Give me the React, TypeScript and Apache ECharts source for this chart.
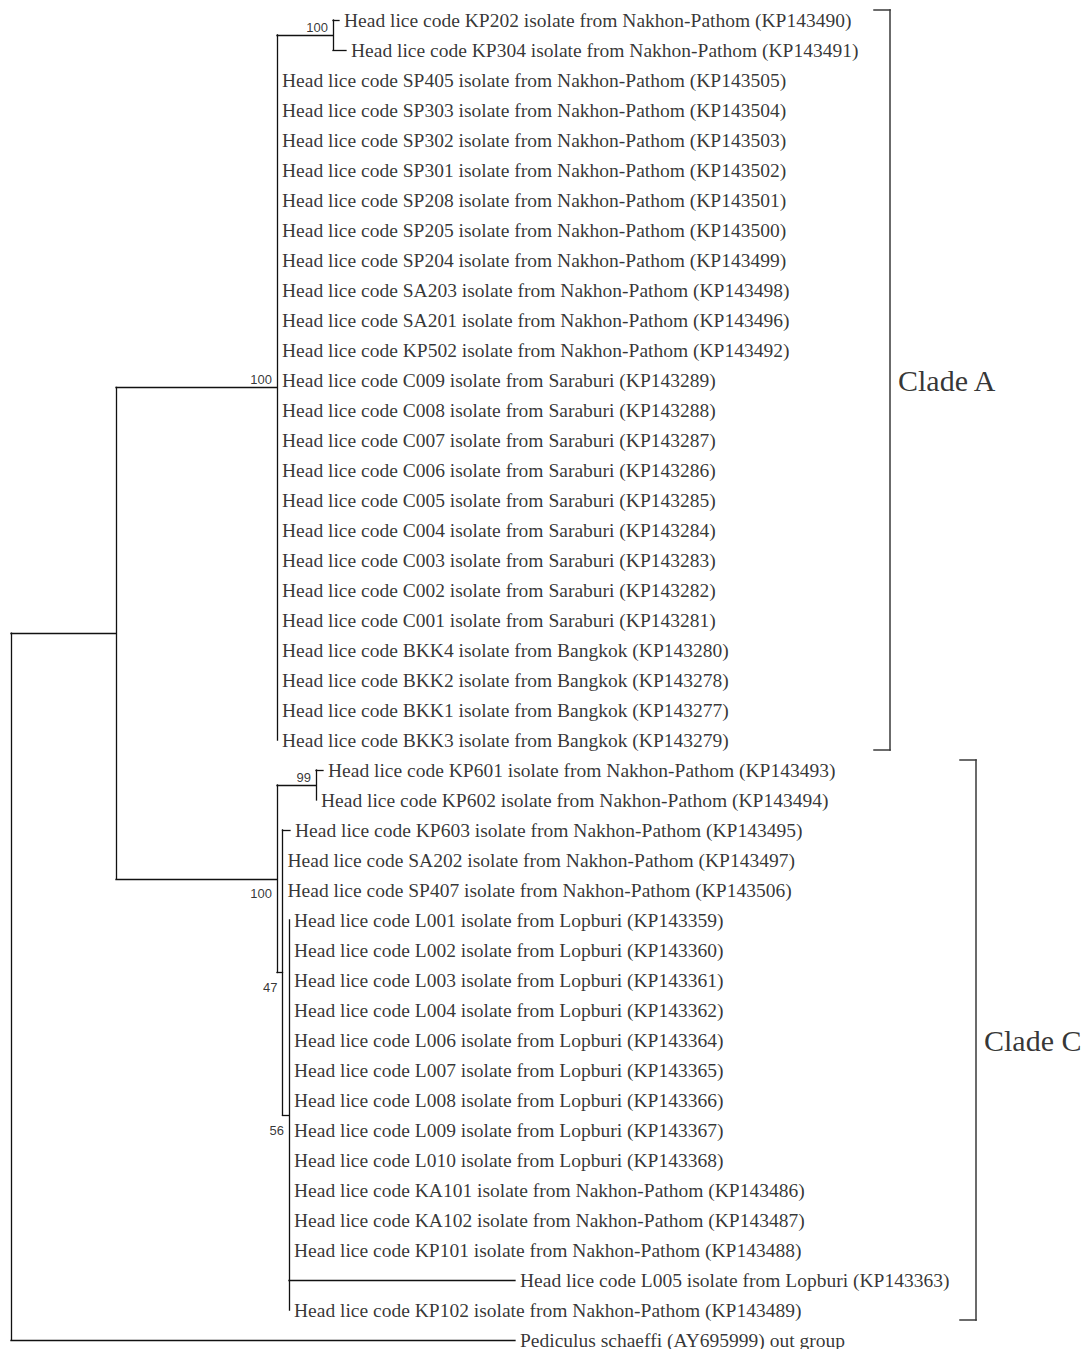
import React, { useEffect, useRef } from "react";
import * as echarts from "echarts";

// ---- DATA ----
// Leaves, top to bottom
const leafNames = [
  "Head lice code KP202 isolate from Nakhon-Pathom (KP143490)",
  "Head lice code KP304 isolate from Nakhon-Pathom (KP143491)",
  "Head lice code SP405 isolate from Nakhon-Pathom (KP143505)",
  "Head lice code SP303 isolate from Nakhon-Pathom (KP143504)",
  "Head lice code SP302 isolate from Nakhon-Pathom (KP143503)",
  "Head lice code SP301 isolate from Nakhon-Pathom (KP143502)",
  "Head lice code SP208 isolate from Nakhon-Pathom (KP143501)",
  "Head lice code SP205 isolate from Nakhon-Pathom (KP143500)",
  "Head lice code SP204 isolate from Nakhon-Pathom (KP143499)",
  "Head lice code SA203 isolate from Nakhon-Pathom (KP143498)",
  "Head lice code SA201 isolate from Nakhon-Pathom (KP143496)",
  "Head lice code KP502 isolate from Nakhon-Pathom (KP143492)",
  "Head lice code C009 isolate from Saraburi (KP143289)",
  "Head lice code C008 isolate from Saraburi (KP143288)",
  "Head lice code C007 isolate from Saraburi (KP143287)",
  "Head lice code C006 isolate from Saraburi (KP143286)",
  "Head lice code C005 isolate from Saraburi (KP143285)",
  "Head lice code C004 isolate from Saraburi (KP143284)",
  "Head lice code C003 isolate from Saraburi (KP143283)",
  "Head lice code C002 isolate from Saraburi (KP143282)",
  "Head lice code C001 isolate from Saraburi (KP143281)",
  "Head lice code BKK4 isolate from Bangkok (KP143280)",
  "Head lice code BKK2 isolate from Bangkok (KP143278)",
  "Head lice code BKK1 isolate from Bangkok (KP143277)",
  "Head lice code BKK3 isolate from Bangkok (KP143279)",
  "Head lice code KP601 isolate from Nakhon-Pathom (KP143493)",
  "Head lice code KP602 isolate from Nakhon-Pathom (KP143494)",
  "Head lice code KP603 isolate from Nakhon-Pathom (KP143495)",
  "Head lice code SA202 isolate from Nakhon-Pathom (KP143497)",
  "Head lice code SP407 isolate from Nakhon-Pathom (KP143506)",
  "Head lice code L001 isolate from Lopburi (KP143359)",
  "Head lice code L002 isolate from Lopburi (KP143360)",
  "Head lice code L003 isolate from Lopburi (KP143361)",
  "Head lice code L004 isolate from Lopburi (KP143362)",
  "Head lice code L006 isolate from Lopburi (KP143364)",
  "Head lice code L007 isolate from Lopburi (KP143365)",
  "Head lice code L008 isolate from Lopburi (KP143366)",
  "Head lice code L009 isolate from Lopburi (KP143367)",
  "Head lice code L010 isolate from Lopburi (KP143368)",
  "Head lice code KA101 isolate from Nakhon-Pathom (KP143486)",
  "Head lice code KA102 isolate from Nakhon-Pathom (KP143487)",
  "Head lice code KP101 isolate from Nakhon-Pathom (KP143488)",
  "Head lice code L005 isolate from Lopburi (KP143363)",
  "Head lice code KP102 isolate from Nakhon-Pathom (KP143489)",
  "Pediculus schaeffi (AY695999) out group",
];
const leafParent = [
  "A1", "A1",
  "A", "A", "A", "A", "A", "A", "A", "A", "A", "A", "A", "A", "A", "A", "A", "A", "A", "A", "A", "A", "A", "A", "A",
  "C1", "C1",
  "C2", "C2", "C2",
  "C3", "C3", "C3", "C3", "C3", "C3", "C3", "C3", "C3", "C3", "C3", "C3", "C3", "C3",
  "root",
];
const leafBranch = [
  6, 13,
  0, 0, 0, 0, 0, 0, 0, 0, 0, 0, 0, 0, 0, 0, 0, 0, 0, 0, 0, 0, 0, 0, 0,
  7, 0,
  7.5, 0, 0,
  0, 0, 0, 0, 0, 0, 0, 0, 0, 0, 0, 0, 226, 0,
  504,
];
// Internal nodes
const nodeIds = ["root", "AC", "A", "A1", "C", "C1", "C2", "C3"];
const nodeParent = [null, "root", "AC", "A", "AC", "C", "C", "C2"];
const nodeBranch = [0, 105, 161, 56, 161, 39, 5.5, 6.5];
const nodeSupport = [null, null, 100, 100, 100, 99, 47, 56];
// Clades
const cladeNames = ["Clade A", "Clade C"];
const cladeFirstLeaf = [0, 25];
const cladeLastLeaf = [24, 43];

// ---- LAYOUT CONSTANTS ----
const W = 1089;
const H = 1349;
const ROW_PX = 30;
const FIRST_ROW_PX = 20;
const ROOT_PX = 11;
const bracketX = [879, 965]; // axis units
const bracketTick = 16;
const bracketPad = 1 / 3;

type Child = { kind: "leaf" | "node"; idx: number };

function buildTree() {
  const depth: Record<string, number> = {};
  const nodeIndex: Record<string, number> = {};
  nodeIds.forEach((id, i) => (nodeIndex[id] = i));
  const getDepth = (id: string): number => {
    if (depth[id] !== undefined) return depth[id];
    const i = nodeIndex[id];
    const p = nodeParent[i];
    const d = p == null ? 0 : getDepth(p) + nodeBranch[i];
    depth[id] = d;
    return d;
  };
  nodeIds.forEach((id) => getDepth(id));

  const children: Record<string, Child[]> = {};
  nodeIds.forEach((id) => (children[id] = []));
  leafParent.forEach((p, i) => children[p].push({ kind: "leaf", idx: i }));
  nodeParent.forEach((p, i) => {
    if (p != null) children[p].push({ kind: "node", idx: i });
  });

  const minLeaf: Record<string, number> = {};
  const getMinLeaf = (id: string): number => {
    if (minLeaf[id] !== undefined) return minLeaf[id];
    let m = Infinity;
    for (const c of children[id]) {
      m = Math.min(m, c.kind === "leaf" ? c.idx : getMinLeaf(nodeIds[c.idx]));
    }
    minLeaf[id] = m;
    return m;
  };
  nodeIds.forEach((id) => {
    children[id].sort((a, b) => {
      const ka = a.kind === "leaf" ? a.idx : getMinLeaf(nodeIds[a.idx]);
      const kb = b.kind === "leaf" ? b.idx : getMinLeaf(nodeIds[b.idx]);
      return ka - kb;
    });
  });

  const yPos: Record<string, number> = {};
  const childY = (c: Child): number => (c.kind === "leaf" ? c.idx : getY(nodeIds[c.idx]));
  const getY = (id: string): number => {
    if (yPos[id] !== undefined) return yPos[id];
    const ch = children[id];
    const y = (childY(ch[0]) + childY(ch[ch.length - 1])) / 2;
    yPos[id] = y;
    return y;
  };
  nodeIds.forEach((id) => getY(id));

  const segments: number[][][] = [];
  nodeIds.forEach((id, i) => {
    const ch = children[id];
    const x = depth[id];
    segments.push([
      [x, childY(ch[0])],
      [x, childY(ch[ch.length - 1])],
    ]);
    const p = nodeParent[i];
    if (p != null && nodeBranch[i] > 0) {
      segments.push([
        [depth[p], yPos[id]],
        [x, yPos[id]],
      ]);
    }
  });
  const leafTip: number[][] = [];
  leafParent.forEach((p, i) => {
    const x0 = depth[p];
    const x1 = x0 + leafBranch[i];
    if (leafBranch[i] > 0) segments.push([[x0, i], [x1, i]]);
    leafTip.push([x1, i]);
  });

  // support labels: first child of parent -> above, else below
  const support: { value: number[]; name: string; above: boolean }[] = [];
  nodeIds.forEach((id, i) => {
    const s = nodeSupport[i];
    if (s == null) return;
    const p = nodeParent[i] as string;
    const sib = children[p];
    const first = sib[0].kind === "node" && sib[0].idx === i;
    support.push({ value: [depth[id], yPos[id]], name: String(s), above: first });
  });
  return { segments, leafTip, support };
}

export default function App() {
  const ref = useRef<HTMLDivElement>(null);
  useEffect(() => {
    if (!ref.current) return;
    const chart = echarts.init(ref.current, null, { renderer: "svg" });
    const { segments, leafTip, support } = buildTree();

    const brackets: number[][][] = [];
    const cladeLabelPts: any[] = [];
    cladeNames.forEach((n, i) => {
      const x = bracketX[i];
      const y0 = cladeFirstLeaf[i] - bracketPad;
      const y1 = cladeLastLeaf[i] + bracketPad;
      brackets.push([[x - bracketTick, y0], [x, y0]]);
      brackets.push([[x, y0], [x, y1]]);
      brackets.push([[x, y1], [x - bracketTick, y1]]);
      cladeLabelPts.push({ value: [x, (y0 + y1) / 2], name: n });
    });

    const yMin = -FIRST_ROW_PX / ROW_PX;
    const yMax = (H - FIRST_ROW_PX) / ROW_PX;

    chart.setOption({
      animation: false,
      backgroundColor: "#ffffff",
      grid: { left: 0, right: 0, top: 0, bottom: 0 },
      xAxis: { type: "value", min: -ROOT_PX, max: W - ROOT_PX, show: false },
      yAxis: { type: "value", min: yMin, max: yMax, inverse: true, show: false },
      series: [
        {
          type: "lines",
          coordinateSystem: "cartesian2d",
          silent: true,
          lineStyle: { color: "#111", width: 1.3, opacity: 1, cap: "square" },
          data: segments.map((c) => ({ coords: c })),
        },
        {
          type: "lines",
          coordinateSystem: "cartesian2d",
          silent: true,
          lineStyle: { color: "#3a3a3a", width: 1.5, opacity: 1, cap: "square" },
          data: brackets.map((c) => ({ coords: c })),
        },
        {
          type: "scatter",
          silent: true,
          symbolSize: 0,
          data: leafTip.map((v, i) => ({ value: v, name: leafNames[i] })),
          label: {
            show: true,
            position: "right",
            distance: 5,
            formatter: (p: any) => p.name,
            fontFamily: "Liberation Serif",
            fontSize: 19.5,
            color: "#000",
          },
        },
        {
          type: "scatter",
          silent: true,
          symbolSize: 0,
          data: support.map((s) => ({
            value: s.value,
            name: s.name,
            label: { offset: [0, s.above ? -8 : 15] },
          })),
          label: {
            show: true,
            position: "left",
            distance: 5,
            formatter: (p: any) => p.name,
            fontFamily: "Liberation Sans",
            fontSize: 13,
            color: "#000",
          },
        },
        {
          type: "scatter",
          silent: true,
          symbolSize: 0,
          data: cladeLabelPts,
          label: {
            show: true,
            position: "right",
            distance: 8,
            formatter: (p: any) => p.name,
            fontFamily: "Liberation Serif",
            fontSize: 30,
            color: "#000",
          },
        },
      ],
    });
    return () => chart.dispose();
  }, []);
  return (
    <div
      ref={ref}
      style={{ position: "absolute", left: 0, top: 0, width: W, height: H, background: "#fff" }}
    />
  );
}
